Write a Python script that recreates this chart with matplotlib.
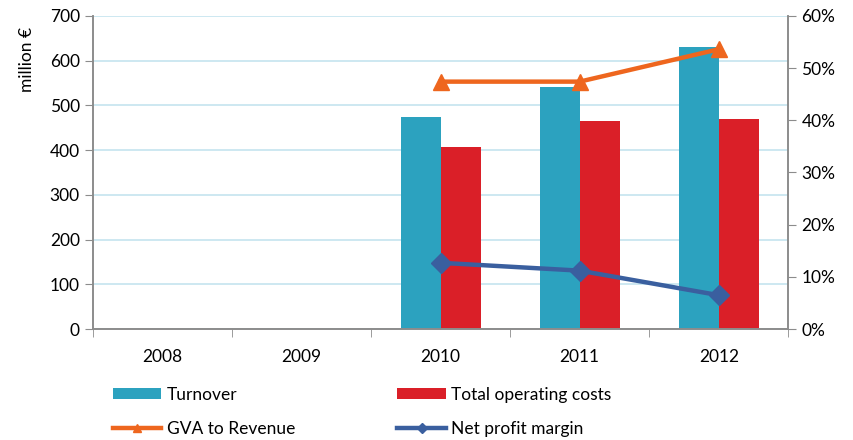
import numpy as np
import matplotlib
matplotlib.use("Agg")
import matplotlib.pyplot as plt
from matplotlib.ticker import FuncFormatter
from matplotlib.lines import Line2D

plt.rcParams['font.family'] = ['Lato', 'DejaVu Sans']

years = ['2008', '2009', '2010', '2011', '2012']
turnover = [np.nan, np.nan, 475, 542, 630]
costs = [np.nan, np.nan, 408, 466, 470]
gva_to_revenue = [np.nan, np.nan, 47.4, 47.4, 53.6]
net_profit_margin = [np.nan, np.nan, 12.7, 11.2, 6.5]

c_turn = '#2ca2bf'
c_cost = '#da1f28'
c_gva = '#ee661e'
c_net = '#3a5f9f'
c_axis = '#8c8c8c'
fs = 12.5

fig = plt.figure(figsize=(8.54, 4.4), dpi=100)
ax = fig.add_axes([0.109, 0.252, 0.814, 0.712])
ax2 = ax.twinx()

x = np.arange(len(years))
w = 0.288
b1 = ax.bar(x - w / 2, turnover, w, color=c_turn, zorder=2)
b2 = ax.bar(x + w / 2, costs, w, color=c_cost, zorder=2)

ax.set_ylim(0, 700)
ax.set_yticks(range(0, 701, 100))
ax.set_xlim(-0.5, len(years) - 0.5)
ax.set_xticks(x)
ax.set_xticklabels(years)
ax.set_xticks(np.arange(-0.5, len(years) + 0.5, 1), minor=True)
ax.tick_params(axis='x', which='major', length=0, pad=14)
ax.tick_params(axis='x', which='minor', length=6, color=c_axis)
ax.tick_params(axis='y', length=6, color=c_axis)
ax.tick_params(labelsize=fs)
ax.grid(axis='y', color='#cde8f1', linewidth=1.4, zorder=0)
ax.set_axisbelow(True)
ax.set_ylabel('million €', fontsize=fs, labelpad=2)
ax.yaxis.set_label_coords(-0.083, 0.86)

ax2.plot(x, gva_to_revenue, color=c_gva, linewidth=3.2, marker='^',
         markersize=12, zorder=3)
ax2.plot(x, net_profit_margin, color=c_net, linewidth=3.2, marker='D',
         markersize=10, zorder=3)
ax2.set_ylim(0, 60)
ax2.set_yticks(range(0, 61, 10))
ax2.yaxis.set_major_formatter(FuncFormatter(lambda v, p: f'{int(v)}%'))
ax2.tick_params(axis='y', length=6, color=c_axis, labelsize=fs)

for a in (ax, ax2):
    a.spines['top'].set_visible(False)
    for s in ('left', 'right', 'bottom'):
        a.spines[s].set_color(c_axis)
        a.spines[s].set_linewidth(1.2)

g_h = Line2D([], [], color=c_gva, linewidth=3.2, marker='^', markersize=6)
n_h = Line2D([], [], color=c_net, linewidth=3.2, marker='D', markersize=5)
handles = [b1, g_h, b2, n_h]
labels = ['Turnover', 'GVA to Revenue', 'Total operating costs', 'Net profit margin']
fig.legend(handles, labels, ncol=2, loc='lower left',
           bbox_to_anchor=(0.132, 0.007), frameon=False, fontsize=fs,
           handlelength=2.8, handleheight=0.6, handletextpad=0.3,
           labelspacing=1.05, columnspacing=5.9, borderaxespad=0,
           borderpad=0)

fig.savefig('out.png', dpi=100)
